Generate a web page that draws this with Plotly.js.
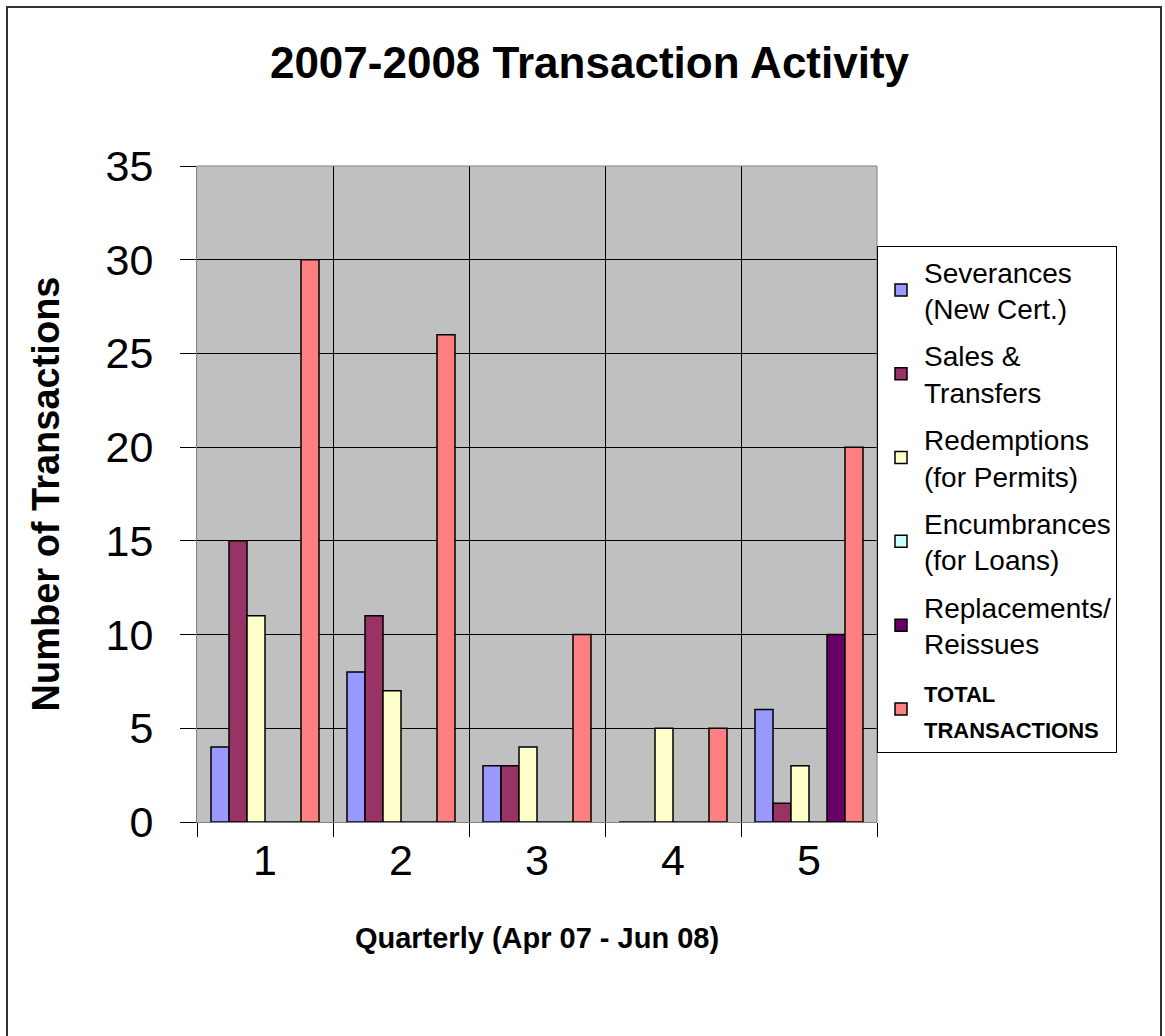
<!DOCTYPE html>
<html>
<head>
<meta charset="utf-8">
<script src="https://cdn.plot.ly/plotly-3.0.1.min.js"></script>
<style>
  html, body { margin: 0; padding: 0; background: #fff; }
  #chart { position: absolute; left: 0; top: 0; width: 1165px; height: 1036px; }
  #frame { position: absolute; left: 6px; top: 6px; width: 1152px; height: 1060px; border: 2px solid #333; pointer-events: none; }
</style>
</head>
<body>
<div id="chart"></div>
<div id="frame"></div>
<script>
const quarters = [1, 2, 3, 4, 5];
const severances = [4, 8, 3, 0, 6];
const salesTransfers = [15, 11, 3, 0, 1];
const redemptions = [11, 7, 4, 5, 3];
const encumbrances = [0, 0, 0, 0, 0];
const replacements = [0, 0, 0, 0, 10];
const totals = [30, 26, 10, 5, 20];

const seriesNames = [
  'Severances<br>(New Cert.)',
  'Sales &amp;<br>Transfers',
  'Redemptions<br>(for Permits)',
  'Encumbrances<br>(for Loans)',
  'Replacements/<br>Reissues',
  '<b><span style="font-size:22px">TOTAL<br>TRANSACTIONS</span></b>'
];
const seriesValues = [severances, salesTransfers, redemptions, encumbrances, replacements, totals];
const seriesColors = ['#9999FF', '#993366', '#FFFFCC', '#CCFFFF', '#660066', '#FF8080'];

const traces = seriesValues.map((vals, i) => ({
  type: 'bar',
  x: quarters,
  y: vals,
  name: seriesNames[i],
  legendgroup: 'g' + i,
  marker: { color: seriesColors[i], line: { color: '#000', width: 1.5 } },
  hoverinfo: 'x+y'
}));

const boundaries = [0.5, 1.5, 2.5, 3.5, 4.5, 5.5];

const layout = {
  width: 1165,
  height: 1036,
  margin: { l: 197, r: 288, t: 166, b: 214 },
  paper_bgcolor: '#ffffff',
  plot_bgcolor: '#C0C0C0',
  font: { family: 'Arial, Liberation Sans, sans-serif', color: '#000' },
  title: {
    text: '<b>2007-2008 Transaction Activity</b>',
    font: { size: 44, family: 'Arial, Liberation Sans, sans-serif', color: '#000' },
    xref: 'container', x: 0.506, xanchor: 'center',
    yref: 'container', y: 0.94, yanchor: 'middle'
  },
  barmode: 'group',
  bargap: 0.206,
  bargroupgap: 0,
  xaxis: {
    range: [0.5, 5.5],
    tickvals: quarters,
    ticktext: quarters.map(String),
    ticks: '',
    showgrid: false,
    zeroline: false,
    showline: true,
    linecolor: '#808080',
    linewidth: 1,
    tickfont: { size: 43 },
    ticklabelstandoff: 0,
    minor: {
      tickvals: boundaries,
      ticks: 'outside',
      ticklen: 14,
      tickcolor: '#000',
      tickwidth: 1,
      showgrid: true,
      gridcolor: '#000',
      gridwidth: 1
    },
    title: {
      text: '<b>Quarterly (Apr 07 - Jun 08)</b>',
      font: { size: 29 },
      standoff: 45
    }
  },
  yaxis: {
    range: [0, 35],
    dtick: 5,
    tick0: 0,
    ticks: 'outside',
    ticklen: 16,
    tickcolor: '#000',
    tickwidth: 1,
    showgrid: true,
    gridcolor: '#000',
    gridwidth: 1,
    zeroline: false,
    showline: true,
    linecolor: '#808080',
    linewidth: 1,
    tickfont: { size: 43 },
    ticklabelstandoff: 18,
    title: {
      text: '<b>Number of Transactions</b>',
      font: { size: 38 },
      standoff: 34
    }
  },
  legend: {
    x: 1.0, xanchor: 'left',
    y: 0.878, yanchor: 'top',
    bgcolor: '#ffffff',
    bordercolor: '#000',
    borderwidth: 1,
    font: { size: 28, family: 'Arial, Liberation Sans, sans-serif', color: '#000' },
    tracegroupgap: 8,
    itemwidth: 36
  },
  shapes: [
    { type: 'line', xref: 'paper', yref: 'paper', x0: 0, x1: 1, y0: 1, y1: 1, line: { color: '#808080', width: 1 } },
    { type: 'line', xref: 'paper', yref: 'paper', x0: 1, x1: 1, y0: 0, y1: 1, line: { color: '#808080', width: 1 } }
  ]
};

Plotly.newPlot('chart', traces, layout, { displayModeBar: false, staticPlot: true });
</script>
</body>
</html>
